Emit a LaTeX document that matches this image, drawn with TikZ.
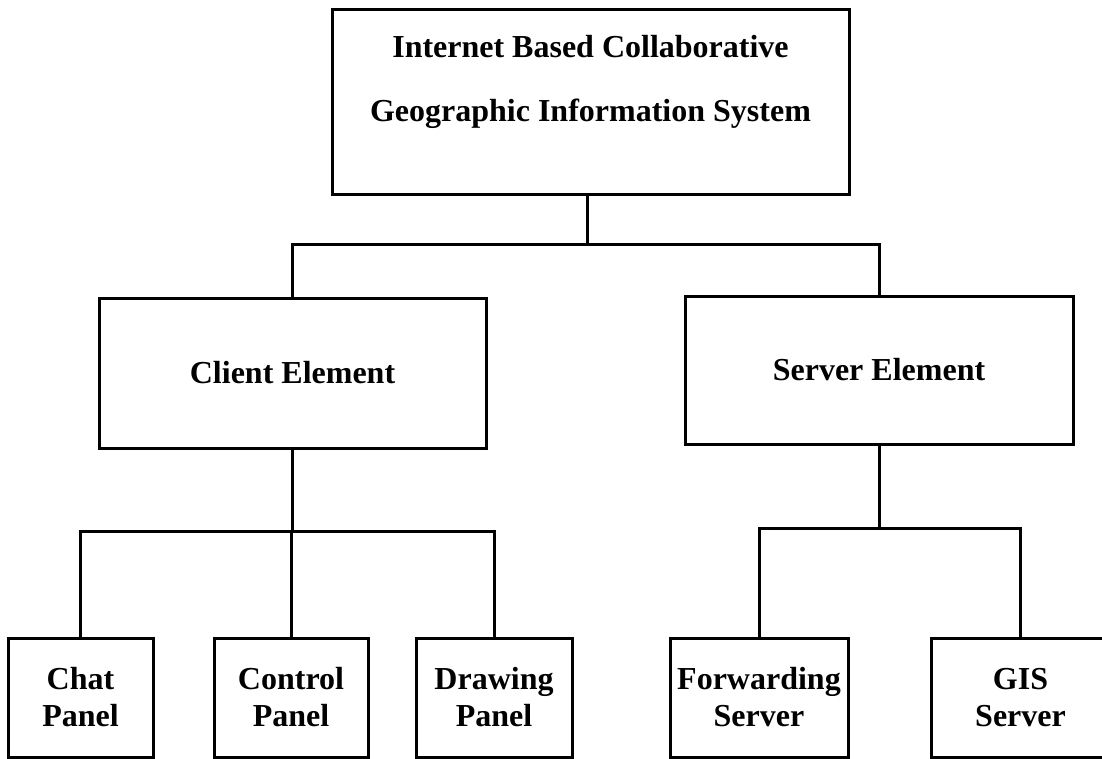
\documentclass[tikz,border=0pt]{standalone}
\usepackage{fontspec}
\setmainfont{Liberation Serif}
\newcommand{\pxu}{0.75pt}
\begin{document}
\begin{tikzpicture}[x=0.75pt,y=-0.75pt]
% Styles
\tikzset{box/.style={draw, rectangle, line width=3*\pxu, inner sep=0pt, align=center,
                     font=\fontsize{24}{27.75}\selectfont\bfseries}}
\tikzset{title/.style={align=center, inner sep=0pt, font=\fontsize{24}{48}\selectfont\bfseries}}
\tikzset{link/.style={line width=3*\pxu}}
\useasboundingbox (0,0) rectangle (1102,759);

% the system box
\node[box, minimum width=517*\pxu, minimum height=185*\pxu] (sys) at (590.5,102.5) {};
\node[title] (systext) at (590.5,82) {Internet Based Collaborative\\Geographic Information System};

% the two elements
\node[box, minimum width=387*\pxu, minimum height=150*\pxu] (client) at (292.5,373) {Client Element};
\node[box, minimum width=388*\pxu, minimum height=148*\pxu] (server) at (879,370) {Server Element};

% the parts
\node[box, minimum width=145*\pxu, minimum height=119*\pxu] (chat) at (80.5,697.5) {Chat\\Panel};
\node[box, minimum width=154*\pxu, minimum height=119*\pxu] (control) at (291,697.5) {Control\\Panel};
\node[box, minimum width=156*\pxu, minimum height=119*\pxu] (drawing) at (494,697.5) {Drawing\\Panel};
\node[box, minimum width=178*\pxu, minimum height=119*\pxu] (fwd) at (759,697.5) {Forwarding\\Server};
\node[box, minimum width=179*\pxu, minimum height=119*\pxu] (gis) at (1020.5,697.5) {GIS\\Server};

% junctions
\coordinate (top-j) at (587,245);
\coordinate (client-j) at (291,531);
\coordinate (server-j) at (884,528);

% system -- elements
\draw[link] (top-j |- sys.south) -- (top-j);
\draw[link] (client.north) -- (client.north |- top-j) -- (server.north |- top-j) -- (server.north);

% client -- panels
\draw[link] (client.south) -- (client.south |- client-j);
\draw[link] (chat.north) -- (chat.north |- client-j) -- (drawing.north |- client-j) -- (drawing.north);
\draw[link] (control.north) -- (control.north |- client-j);

% server -- servers
\draw[link] (server.south) -- (server.south |- server-j);
\draw[link] (fwd.north) -- (fwd.north |- server-j) -- (gis.north |- server-j) -- (gis.north);
\end{tikzpicture}
\end{document}
